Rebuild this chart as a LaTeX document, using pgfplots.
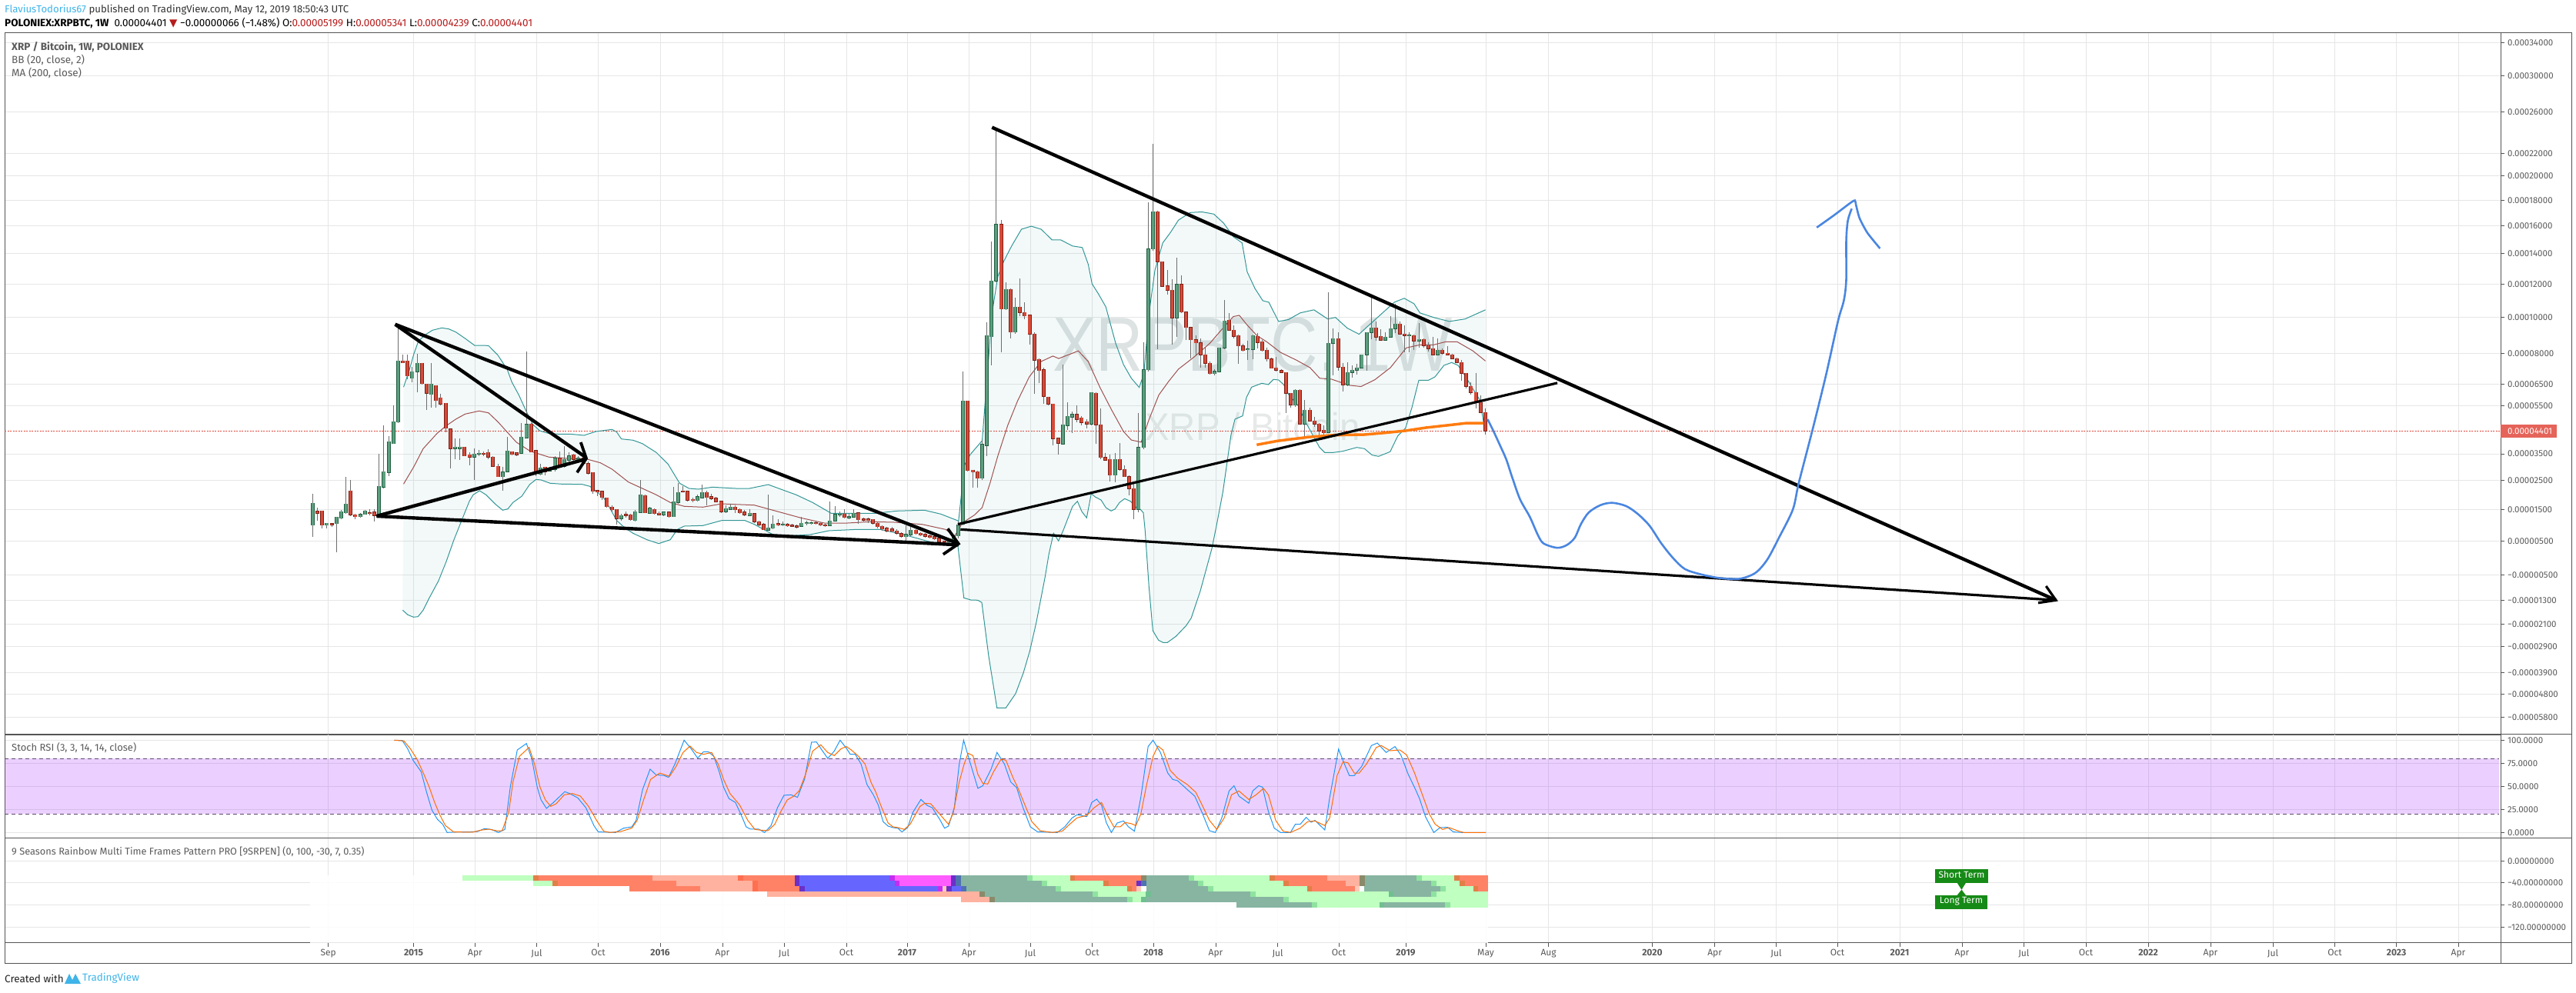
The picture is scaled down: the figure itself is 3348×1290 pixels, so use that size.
\documentclass[border=0pt]{standalone}
\usepackage{fontspec}
\usepackage{pgfplots}
\usepackage{pgfplotstable}
\pgfplotsset{compat=1.18}
\setmainfont{Fira Sans}
\newfontfamily\wmfont{Liberation Sans}
\newfontfamily\symfont{DejaVu Sans}
\definecolor{gridc}{HTML}{E6E6E6}
\definecolor{framec}{HTML}{555555}
\definecolor{labc}{HTML}{5A5A5A}
\definecolor{gbody}{HTML}{5C9E7E}
\definecolor{gedge}{HTML}{1F5E40}
\definecolor{rbody}{HTML}{D54A39}
\definecolor{redge}{HTML}{7A1F15}
\definecolor{wick}{HTML}{6E6E6E}
\definecolor{bbline}{HTML}{339696}
\definecolor{bbmid}{HTML}{A05050}
\definecolor{maorange}{HTML}{FF7B0F}
\definecolor{penblue}{HTML}{4A86E0}
\definecolor{lastred}{HTML}{E0483C}
\definecolor{hred}{HTML}{B71C1C}
\definecolor{tvblue}{HTML}{3FB4E8}
\definecolor{rsik}{HTML}{2196F3}
\definecolor{rsid}{HTML}{FF6D00}
\definecolor{band}{HTML}{9915FF}
\definecolor{bandline}{HTML}{5C4B6B}
\definecolor{wm}{HTML}{DDE2E2}
\definecolor{wmb}{HTML}{E7E9E9}
\definecolor{Dg}{HTML}{87B5A2}
\definecolor{Lg}{HTML}{BFFFBF}
\definecolor{Mg}{HTML}{8FE3A0}
\definecolor{Tg}{HTML}{6FBF90}
\definecolor{Or}{HTML}{FF8266}
\definecolor{Sa}{HTML}{FFB29F}
\definecolor{Br}{HTML}{E08048}
\definecolor{Ol}{HTML}{8A8A6A}
\definecolor{Bl}{HTML}{6666FF}
\definecolor{Mg2}{HTML}{FF5CFF}
\definecolor{Pu}{HTML}{6A30C8}
\definecolor{Vi}{HTML}{C42DF0}
\definecolor{Sb}{HTML}{4F73B0}
\definecolor{Hr}{HTML}{FF6F4F}
\definecolor{Pk}{HTML}{FFC9B8}
\definecolor{boxg}{HTML}{168A16}

% weekly candles, in price-scale position (screen row of the non-linear scale): i top bottom high low
\pgfplotstableread{
i top bot hi lo
1 654.3 682.7 641.7 697.7
4 680.3 682.7 680 686.7
6 672.3 680.7 672.3 717.7
7 665.3 673.7 663.3 675
8 655.3 666.7 620 668.3
11 668.7 671.7 666.7 673.3
12 664.3 668.7 663.3 669.3
15 632.3 668.7 590 671.7
16 613.3 633.3 553.3 635
17 574.3 614.3 566.7 619
18 548.3 576.7 526.7 576.7
19 469.3 548.7 421.7 550
22 483.3 491.7 476.7 496.7
23 472.3 483.3 460 510
26 499.3 512.7 472.3 530
31 581.3 583 570 596.7
32 581.3 583.3 570 598.3
35 590.3 594.3 583.3 623.7
36 589.3 590.3 585 593.3
41 614 619.7 606.7 638.3
42 586.3 613.3 568.3 614
45 568.3 589.3 550 590
46 552 569.3 457 570
49 608.3 616.7 603.3 618.3
51 610 612.3 606.7 613.3
52 595.7 610 593.3 613.3
54 597.3 606 580 608.3
55 592.7 598.3 588.3 603.3
57 596 598.3 593.3 600
66 670.3 674 668.3 676.7
69 665.3 676.7 663.3 677.7
70 643.3 666 624 666.7
72 661 667.3 659.3 668.3
75 666 669.3 665 670.7
77 652.3 671.7 633.3 672.3
78 640.3 653.3 628.3 655
82 646 650.7 643.3 651.7
83 640.3 647.3 630 648.3
88 661.3 665.3 656.7 666.7
89 659.3 662 655 663.3
93 667.3 670 661.7 670.7
97 686.3 689 643.3 690
98 681.3 686.7 670 688.3
100 682 682.7 678.3 684
104 680.3 684.3 671.7 685
105 679.7 680.7 676.7 682.7
106 679.7 680.3 677.7 682
110 677.3 683.3 651.7 684
111 669 677.3 658.3 678.3
112 668.3 669.3 665 671.7
114 671.7 673.3 668.3 675
115 667.3 672.3 661.7 673.3
126 695 697.7 683.3 706.7
127 689.3 695.3 685 696.7
135 702 704.7 700 706
136 696.7 703.3 695 705
137 682.3 696.7 678 700
138 521.3 681.7 483.3 683
142 578 621.5 572.9 624.3
143 436.4 578.8 419 592.6
144 365.3 437.6 313.9 474.8
145 292.1 365.3 165.6 367.2
147 376.3 401.6 367.2 402.8
149 399.3 431.7 387 434.5
159 552.3 576.8 474 577.6
160 541.2 553.1 523.4 559
161 538.5 542 535.3 563
165 510.4 551.1 509.6 553.1
170 597.4 617.5 588.7 627.4
175 581.6 661.8 536.5 665.8
176 480.7 581.6 445.1 583.5
177 323.8 480.7 263.3 482.7
178 275.5 323.8 187.3 325.7
183 370 413.5 334.8 438.4
191 482.7 485.5 479.9 487.8
192 452.3 483.1 452.3 483.9
193 417.5 452.3 390.2 454.2
198 454 454.7 443.3 467.7
199 436.3 454.3 435 466.7
208 507.3 526.7 506 529.3
210 533.3 551.3 520 567.7
215 446.3 562.3 380 563.3
216 440.3 446.3 426.7 488.3
219 484.3 500.3 471 502.3
220 481.3 484.3 475 490.7
221 478.3 481.3 473.3 487.3
222 461.3 478.3 460.7 479.3
223 432.3 461.3 431.7 481.7
224 426.3 432.3 384 440.7
227 438.3 442.3 431.7 443.3
228 427.3 438.3 411 439
229 421.3 427.3 395 433.3
232 436 436.7 431.7 458.3
234 441.3 443.3 420 451.7
238 455.3 461.3 440 462
}\greencandles
\pgfplotstableread{
i top bot hi lo
2 665 667.3 660 676.7
3 664.3 682.7 664.3 687.3
5 680.7 682 680 685
9 638.3 669.3 624.3 671
10 669.3 671.7 668.3 675
13 667 667.7 661.7 670
14 666 670 661.7 677.7
20 469.3 471.7 461 471.7
21 469.3 488.7 461 493.3
24 472.3 498.7 472.3 500
25 499.3 511.3 499.3 533.3
27 501.3 520.7 501.3 530
28 517.3 525.3 511.7 526.7
29 524.3 556.7 524.3 561.7
30 557.7 583.3 556.7 608.7
33 581.3 592.7 581.3 593.3
34 591.3 594.3 588.3 605
37 589.3 590 586.7 593.3
38 588.3 594.3 584 596.7
39 594.3 606 593.3 606.7
40 606.3 619.7 603.3 620
43 587.3 590.7 586.7 591.7
44 589 591.3 588.3 593.3
47 551.3 587.7 550 588.3
48 585.7 615.3 585.7 618.7
50 607.3 613.3 606.7 618.3
53 595.7 604 586.7 606.7
56 591.3 597.3 590 600
58 596 602.7 590 603.3
59 602.7 615.3 600 616.7
60 614.3 638.7 614.3 641.7
61 638 639.7 636.7 645
62 639 646.7 639 650
63 647.3 658.7 647.3 660
64 659.3 662.7 656.7 665
65 662.3 674 661.7 681.7
67 669 670 665 673.3
68 669.3 675.7 668.3 676.7
71 644.3 666.7 643.3 667.3
73 662.3 667.7 660.7 668.7
74 667.3 669.3 665 670
76 666 671.7 665 673.3
79 638.3 639 631.7 640
80 639 650 638.3 651.7
81 649.3 650.7 646.7 652.7
84 640.3 646.7 638.3 657.3
85 645.7 648.3 641.7 650
86 648 652 646 653.3
87 651.7 665.3 650.7 667.3
90 659.3 662.7 656.7 666.7
91 662.3 666.7 660.7 668.3
92 666 669.3 663.3 670.7
94 668 678.3 667.3 680
95 678.3 682 676.7 684
96 681.7 688.7 680 689.3
99 681 682.7 675 684
101 682 683.7 680 685
102 682.7 684 681 685
103 683.7 685 681.7 686.7
107 679.7 680.7 677.7 682
108 680.3 682.7 679 684
109 682.7 683.3 681 685
113 668.3 672.7 661.7 674
116 666.7 675.7 665.7 681
117 675 676.3 672.7 678.3
118 675 676.7 672.7 680
119 675.3 680.3 675 681.7
120 680.3 684.7 679 686.7
121 684.3 687.7 682.7 690
122 687 690 685 691.7
123 687.7 690.7 685 692.3
124 690.3 693.3 688.3 695
125 693.7 697 691.7 698.7
128 689.3 693.7 688.3 695
129 693.3 695.7 691.7 696.7
130 695 697 693.3 698.7
131 696.7 698.7 695 700
132 697.7 700.7 696 701.7
133 700 704.3 698.3 705.3
134 703.7 704.7 702.7 706
139 521.3 611.7 521.3 613.3
140 611.2 613.6 611 634
141 613.2 621.5 612 634
146 292.1 401.6 286.2 458.2
148 376.3 431.7 375.2 440.4
150 399.3 406.4 362.1 410.7
151 406.4 410.7 393 414.7
152 409.6 434.5 408.8 448.3
153 434.5 468.1 432.5 511.6
154 467.3 481.5 466.1 497.7
155 481.1 515.1 478 525.4
156 516.3 525.4 515.5 527.4
157 525.4 570.1 525.4 578.8
158 570.1 576.4 568.9 590.7
162 538.5 545.2 527.4 549.1
163 543.2 549.1 541.2 553.1
164 548.4 551.1 545.2 557
166 511.2 552.3 509.6 576.8
167 552.3 594.6 531.3 596.6
168 594.6 597.8 588.7 598.6
169 597.4 617.5 590.7 626.2
171 597.4 610.4 576 612.4
172 610.4 619.5 604.5 620.3
173 619.5 635.3 618.3 644
174 635.3 661.8 628.2 674.9
179 275.5 340.4 274.3 454.2
180 340.4 372 339.6 373.2
181 372 377.5 351.4 383.1
182 377.5 413.5 363.3 448.3
184 370 405.6 358.2 406.8
185 405.6 425.8 405.6 442.4
186 425.8 441.6 424.6 466.1
187 441.6 445.5 436.4 462.1
188 445.5 461.4 440.4 478
189 461.4 472.4 452.3 478
190 472.4 485.5 470.1 487.1
194 416.3 429.3 406.8 430.5
195 429.3 437.3 423.3 440
196 436.3 449.7 435 473.3
197 449.7 455.7 446.7 456.7
200 437.3 445.3 432.7 452.7
201 444.3 455.7 441.7 456.7
202 455.3 466.7 451.7 470
203 466.7 478.7 465 479.3
204 478.3 481.3 464 482.7
205 481.7 484.3 480 485
206 484.3 511.3 484.3 537.3
207 511.3 526.3 511.3 530
209 507.3 551.3 506 552
211 533.3 547.3 530 548.3
212 547.3 551.3 541.7 555
213 551.3 560.3 550 569.3
214 559.3 562.7 553.3 570
217 440.3 477.3 432.3 481.7
218 477.3 500.3 471.7 509.3
225 426.3 438.3 418.3 442.7
226 437.3 442.3 428.3 443.3
230 421.3 434.3 418.3 435
231 434.3 436.3 423.3 458.3
233 436.3 443.3 435 455
235 441.3 449.3 440 451.7
236 449.3 453.3 445 456.7
237 453.3 461.3 438.3 462
239 455.3 459.3 452.7 460.7
240 459.3 461.3 450 461.7
241 461.3 466.3 460 466.7
242 466.3 471.3 465 472
243 471.3 485.3 468.3 494.7
244 485.3 502.3 485.3 505
245 502.3 510.3 496.7 513.3
246 510.3 523.3 485 530.7
247 523.3 536.3 514 537.3
248 536.3 560.3 530.7 565
}\redcandles

\newcommand{\candles}[3]{%
\addplot[draw=none,forget plot,error bars/.cd,y dir=plus,y explicit,error mark=none,error bar style={line width=1pt,color=wick}]
 table[x expr=406.4+6.17*(\thisrow{i}-1),y=hi,y error plus expr=\thisrow{lo}-\thisrow{hi}] {#1};
\addplot[draw=none,forget plot,error bars/.cd,y dir=plus,y explicit,error mark=none,error bar style={line width=5pt,color=#3}]
 table[x expr=406.4+6.17*(\thisrow{i}-1),y expr=\thisrow{top}-0.7,y error plus expr=\thisrow{bot}-\thisrow{top}+1.4] {#1};
\addplot[draw=none,forget plot,error bars/.cd,y dir=plus,y explicit,error mark=none,error bar style={line width=3.2pt,color=#2}]
 table[x expr=406.4+6.17*(\thisrow{i}-1),y=top,y error plus expr=\thisrow{bot}-\thisrow{top}] {#1};
}
\newcommand{\seg}[5]{\addplot[fill=#1,draw=none,forget plot] coordinates {(#2,#4)(#3,#4)(#3,#5)(#2,#5)} -- cycle;}
\newcommand{\RA}[3]{\seg{#1}{#2}{#3}{-26.1}{-35.9}}
\newcommand{\RB}[3]{\seg{#1}{#2}{#3}{-35.9}{-45.6}}
\newcommand{\RC}[3]{\seg{#1}{#2}{#3}{-45.6}{-55.4}}
\newcommand{\RD}[3]{\seg{#1}{#2}{#3}{-55.4}{-65.2}}
\newcommand{\RE}[3]{\seg{#1}{#2}{#3}{-65.2}{-75}}
\newcommand{\RF}[3]{\seg{#1}{#2}{#3}{-75}{-84.7}}
\newcommand{\txt}[2]{\node[anchor=west,inner sep=0pt] at (#1pt,#2pt)}
\pgfplotsset{
 pane/.style={
  scale only axis,width=3244pt,xmin=6,xmax=3250,
  xtick={426.7,537.5,617.5,697.5,777.5,858,939,1019,1100,1179,1259.4,1339,1419.5,1499,1580,1660.6,1740,1827,1931,2012.6,2147.4,2228.6,2308.5,2388,2469,2550,2630.3,2711,2792,2873,2954,3034.5,3114.5,3195},
  grid=both,major grid style={color=gridc,line width=1pt},
  axis line style={color=framec,line width=1pt},
  ytick pos=right,yticklabel pos=right,
  tick align=outside,major tick length=5pt,
  y tick style={color=framec,line width=1pt},
  y tick label style={font=\fontsize{11.5}{13}\selectfont,color=labc,inner sep=0pt},
  yticklabel shift=4pt,
  x tick label style={font=\fontsize{12}{14}\selectfont,color=labc},
  enlargelimits=false,
 }
}
\begin{document}
\begin{tikzpicture}[x=1pt,y=1pt]
\path[use as bounding box] (0pt,0pt) rectangle (3348pt,1290pt);

% ---------- main pane ----------
\begin{axis}[pane,at={(6pt,335pt)},anchor=south west,height=912pt,y dir=reverse,ymin=43,ymax=955,
 xticklabels={},x tick style={draw=none},xtick pos=bottom,
 ytick={55.5,98.9,146,199.6,228.3,260.8,293.4,329.7,369.3,412.6,459.8,499.4,527.4,590,624.4,662.6,703.4,747.4,780.6,811.2,840.6,874.3,902.4,932.4},
 yticklabels={0.00034000,0.00030000,0.00026000,0.00022000,0.00020000,0.00018000,0.00016000,0.00014000,0.00012000,0.00010000,0.00008000,0.00006500,0.00005500,0.00003500,0.00002500,0.00001500,0.00000500,−0.00000500,−0.00001300,−0.00002100,−0.00002900,−0.00003900,−0.00004800,−0.00005800},
]
% watermarks
\addplot[draw=none,forget plot] coordinates {(1628,454)} node[font=\wmfont\fontsize{100}{100}\selectfont,color=wm,xscale=0.85] {XRPBTC, 1W};
\addplot[draw=none,forget plot] coordinates {(1628,555)} node[font=\wmfont\fontsize{50}{50}\selectfont,color=wmb,xscale=0.95] {XRP / Bitcoin};
% last price
\addplot[color=lastred,line width=0.8pt,dash pattern=on 2pt off 1.5pt,forget plot] coordinates {(6,560)(3250,560)};

% Bollinger band fill (upper forward, lower back)
\addplot[fill=bbline,fill opacity=0.06,draw=none,forget plot] coordinates {
(524.5,503.3)(531.8,481.7)(537.9,460)(543.9,443.3)(553,435)(562.1,429.3)(574.2,426.3)(583.3,427.7)(592.4,431.7)(604.5,440)(616.7,449)(634.8,449.3)(647,461.7)(659.1,480)(665.2,496.7)(674.2,513.3)(683.3,533.3)(692.4,551.7)(701.5,560)(713.6,563.7)(725.8,564.3)(740.9,564.3)(759.1,566)(774.2,561)(795.5,558.3)(801.5,561.7)(807.6,570.7)(822.7,572.3)(834.8,576.7)(853,588.3)(868.2,603.3)(883.3,628.3)(895.5,635)(907.6,636)(925.8,633.3)(956.1,635)(974.2,635)(998.5,630)(1016.7,636.7)(1034.8,643.3)(1056.1,653.3)(1080.3,667.3)(1113.6,667.3)(1137.9,667.3)(1165.2,664.3)(1201.5,663.3)(1222.7,668.3)(1245.8,677.3)(1253.6,604.5)(1261.2,590.7)(1276.5,572.9)(1284.2,474)(1289.3,406.8)(1296.9,359.3)(1304.6,339.6)(1314.8,319.8)(1327.6,298)(1340.3,294.1)(1353.1,298)(1367.3,311.9)(1378.6,311.9)(1393.9,319.8)(1406.6,321.8)(1414.3,343.5)(1419.4,369.2)(1427,381.1)(1437.2,398.9)(1450,446.3)(1460.2,474)(1470.4,491.8)(1480.6,503.7)(1486.7,485.9)(1493.4,406.8)(1501,351.4)(1511.2,315.8)(1521.4,302)(1531.6,286.2)(1546.9,276.3)(1562.2,275.5)(1577.6,278.3)(1590.3,290.1)(1603.1,307.9)(1614.3,315.8)(1620.9,353.4)(1631.1,375.2)(1641.3,391)(1649,392.9)(1661.7,417.9)(1674.5,415.5)(1689.8,406.8)(1707.7,402.8)(1725.5,414.7)(1735.7,412.7)(1751,426.6)(1766.3,434.5)(1781.6,420.6)(1796.9,406.8)(1812.2,392.9)(1825,387.8)(1837.8,394.9)(1845.4,406.8)(1863.3,412.7)(1883.7,417.9)(1904.1,414.7)(1930.6,402.8)
(1930,560)(1923.3,520)(1915,506.7)(1905,490)(1895,475)(1886.7,471.3)(1876.7,475)(1865,490)(1856.7,494.3)(1844,494.3)(1835,530)(1826.7,556.7)(1816.7,566.7)(1806.7,587.3)(1791.7,593.3)(1783.3,591.7)(1773.3,583.3)(1763.3,581.7)(1745,586.7)(1733.3,588.3)(1721.7,588.3)(1715,581.7)(1706.7,566.7)(1696.7,548.3)(1686.7,526.7)(1675,513.3)(1668.3,500)(1661.7,494)(1655,493.3)(1648.3,500)(1640,498.3)(1626.7,503.3)(1620,516.7)(1615,540.7)(1605,545)(1600,565)(1589.3,640)(1581.7,680)(1575,713.3)(1560,768.3)(1548.3,803.3)(1541.7,813.3)(1528.3,827.3)(1517.3,835.3)(1511.7,835.3)(1505.7,832.3)(1498.3,820)(1493.3,763.3)(1488.3,690)(1486,666.7)(1481.7,661.7)(1476.7,660)(1469.3,651.7)(1461.7,648.3)(1455,653.3)(1449.3,661.7)(1444,664.3)(1437.3,660)(1431,650)(1423.3,646)(1418.3,641.7)(1412.3,673.3)(1406,665)(1400.3,651.7)(1394,658.3)(1381.7,690)(1375.7,703.3)(1369.3,693.3)(1363.3,720)(1358.3,750)(1346.7,810)(1338.3,846.7)(1330,875)(1320,901.7)(1307.3,920.3)(1295.7,920.3)(1285,853.3)(1276,783.3)(1270.7,780.3)(1261.7,780)(1252.7,777.3)(1245,710)(1240.9,710)(1210.6,705)(1174.2,695)(1143.9,688.3)(1113.6,688.3)(1077.3,690)(1053,695)(1022.7,696.7)(1004.5,695)(992.4,688.3)(980.3,681.7)(968.2,676.7)(937.9,676.7)(913.6,683.3)(889.4,684)(880.3,688.3)(871.2,701.7)(856.1,706.7)(840.9,701.7)(822.7,693.3)(810.6,685)(801.5,676.7)(786.7,650)(776.7,640)(766.7,632.3)(756.7,629.7)(730,629.3)(715,628.3)(703.3,624)(696.7,623.3)(688.3,630)(678.3,645)(666.7,653.3)(660,661.7)(653.3,663.3)(643.3,655)(631.7,643.3)(623.3,638)(615,643.3)(610,651.7)(600,676.7)(590,701.7)(580,730)(570,755)(558.3,776.7)(550,793.3)(543.3,801.7)(537.3,802.3)(530,799.3)(523.3,793.3)} -- cycle;
\addplot[color=bbline,line width=1pt,forget plot] coordinates {
(524.5,503.3)(531.8,481.7)(537.9,460)(543.9,443.3)(553,435)(562.1,429.3)(574.2,426.3)(583.3,427.7)(592.4,431.7)(604.5,440)(616.7,449)(634.8,449.3)(647,461.7)(659.1,480)(665.2,496.7)(674.2,513.3)(683.3,533.3)(692.4,551.7)(701.5,560)(713.6,563.7)(725.8,564.3)(740.9,564.3)(759.1,566)(774.2,561)(795.5,558.3)(801.5,561.7)(807.6,570.7)(822.7,572.3)(834.8,576.7)(853,588.3)(868.2,603.3)(883.3,628.3)(895.5,635)(907.6,636)(925.8,633.3)(956.1,635)(974.2,635)(998.5,630)(1016.7,636.7)(1034.8,643.3)(1056.1,653.3)(1080.3,667.3)(1113.6,667.3)(1137.9,667.3)(1165.2,664.3)(1201.5,663.3)(1222.7,668.3)(1245.8,677.3)(1253.6,604.5)(1261.2,590.7)(1276.5,572.9)(1284.2,474)(1289.3,406.8)(1296.9,359.3)(1304.6,339.6)(1314.8,319.8)(1327.6,298)(1340.3,294.1)(1353.1,298)(1367.3,311.9)(1378.6,311.9)(1393.9,319.8)(1406.6,321.8)(1414.3,343.5)(1419.4,369.2)(1427,381.1)(1437.2,398.9)(1450,446.3)(1460.2,474)(1470.4,491.8)(1480.6,503.7)(1486.7,485.9)(1493.4,406.8)(1501,351.4)(1511.2,315.8)(1521.4,302)(1531.6,286.2)(1546.9,276.3)(1562.2,275.5)(1577.6,278.3)(1590.3,290.1)(1603.1,307.9)(1614.3,315.8)(1620.9,353.4)(1631.1,375.2)(1641.3,391)(1649,392.9)(1661.7,417.9)(1674.5,415.5)(1689.8,406.8)(1707.7,402.8)(1725.5,414.7)(1735.7,412.7)(1751,426.6)(1766.3,434.5)(1781.6,420.6)(1796.9,406.8)(1812.2,392.9)(1825,387.8)(1837.8,394.9)(1845.4,406.8)(1863.3,412.7)(1883.7,417.9)(1904.1,414.7)(1930.6,402.8)};
\addplot[color=bbline,line width=1pt,forget plot] coordinates {
(523.3,793.3)(530,799.3)(537.3,802.3)(543.3,801.7)(550,793.3)(558.3,776.7)(570,755)(580,730)(590,701.7)(600,676.7)(610,651.7)(615,643.3)(623.3,638)(631.7,643.3)(643.3,655)(653.3,663.3)(660,661.7)(666.7,653.3)(678.3,645)(688.3,630)(696.7,623.3)(703.3,624)(715,628.3)(730,629.3)(756.7,629.7)(766.7,632.3)(776.7,640)(786.7,650)(801.5,676.7)(810.6,685)(822.7,693.3)(840.9,701.7)(856.1,706.7)(871.2,701.7)(880.3,688.3)(889.4,684)(913.6,683.3)(937.9,676.7)(968.2,676.7)(980.3,681.7)(992.4,688.3)(1004.5,695)(1022.7,696.7)(1053,695)(1077.3,690)(1113.6,688.3)(1143.9,688.3)(1174.2,695)(1210.6,705)(1240.9,710)(1245,710)(1252.7,777.3)(1261.7,780)(1270.7,780.3)(1276,783.3)(1285,853.3)(1295.7,920.3)(1307.3,920.3)(1320,901.7)(1330,875)(1338.3,846.7)(1346.7,810)(1358.3,750)(1363.3,720)(1369.3,693.3)(1375.7,703.3)(1381.7,690)(1394,658.3)(1400.3,651.7)(1406,665)(1412.3,673.3)(1418.3,641.7)(1423.3,646)(1431,650)(1437.3,660)(1444,664.3)(1449.3,661.7)(1455,653.3)(1461.7,648.3)(1469.3,651.7)(1476.7,660)(1481.7,661.7)(1486,666.7)(1488.3,690)(1493.3,763.3)(1498.3,820)(1505.7,832.3)(1511.7,835.3)(1517.3,835.3)(1528.3,827.3)(1541.7,813.3)(1548.3,803.3)(1560,768.3)(1575,713.3)(1581.7,680)(1589.3,640)(1600,565)(1605,545)(1615,540.7)(1620,516.7)(1626.7,503.3)(1640,498.3)(1648.3,500)(1655,493.3)(1661.7,494)(1668.3,500)(1675,513.3)(1686.7,526.7)(1696.7,548.3)(1706.7,566.7)(1715,581.7)(1721.7,588.3)(1733.3,588.3)(1745,586.7)(1763.3,581.7)(1773.3,583.3)(1783.3,591.7)(1791.7,593.3)(1806.7,587.3)(1816.7,566.7)(1826.7,556.7)(1835,530)(1844,494.3)(1856.7,494.3)(1865,490)(1876.7,475)(1886.7,471.3)(1895,475)(1905,490)(1915,506.7)(1923.3,520)(1930,560)};
\addplot[color=bbmid,line width=1pt,forget plot] coordinates {
(524.5,629.3)(537.9,606.7)(550,583.3)(568.2,563.3)(580.3,553.3)(592.4,545)(604.5,538.3)(622.7,534.3)(634.8,536.7)(647,548.3)(659.1,561.7)(671.2,575)(689.4,586.7)(713.6,594.3)(737.9,596)(762.1,596.7)(780.3,601.7)(795.5,610)(816.7,626.7)(834.8,635)(853,643.3)(871.2,653.3)(889.4,658.3)(913.6,659.3)(937.9,655)(980.3,656.7)(1010.6,665)(1040.9,673.3)(1071.2,680)(1101.5,680)(1131.8,678.3)(1162.1,679)(1198.5,681.7)(1228.8,688.3)(1240.9,696.7)(1251,679.6)(1266.3,669.7)(1276.5,659.8)(1286.7,628.2)(1296.9,592.6)(1309.7,553.1)(1322.4,521.5)(1337.8,489.8)(1353.1,470)(1368.4,462.9)(1376,466.1)(1391.3,460.2)(1401.5,456.2)(1414.3,470)(1429.6,503.7)(1444.9,533.3)(1460.2,561)(1470.4,572.1)(1483.2,574.8)(1493.4,545.2)(1506.1,513.5)(1518.9,495.8)(1531.6,479.9)(1552,464.1)(1572.4,446.3)(1592.9,422.6)(1603.1,411.5)(1610.7,410)(1620.9,422.6)(1633.7,436.4)(1646.4,444.4)(1664.3,458.2)(1684.7,468.1)(1702.6,478)(1715.3,491.8)(1730.6,493)(1753.6,500.9)(1768.9,502.5)(1786.7,493.8)(1807.1,478)(1827.6,452.3)(1845.4,448.3)(1863.3,448.3)(1878.6,444.4)(1893.9,444.4)(1914.3,456.2)(1930.6,469.3)};
% candles
\candles{\greencandles}{gbody}{gedge}
\candles{\redcandles}{rbody}{redge}
% MA 200
\addplot[color=maorange,line width=3.5pt,forget plot] coordinates {(1633.3,578.3)(1660,573.3)(1700,568.3)(1733.3,565.7)(1773.3,565)(1800,562.7)(1826.7,560)(1853.3,556)(1886.7,552.3)(1906.7,550)(1928.3,550)};
% drawn trend lines
\addplot[black,line width=4.4pt,forget plot] coordinates {(513.6,421.7)(762,595)};
\addplot[black,line width=4.4pt,forget plot] coordinates {(513.6,421.7)(1245.8,706.7)};
\addplot[black,line width=4.4pt,forget plot] coordinates {(489.4,671)(762,596.7)};
\addplot[black,line width=4.4pt,forget plot] coordinates {(489.4,671)(1245.8,708.3)};
\addplot[black,line width=3.8pt,forget plot] coordinates {(754.8,575)(762,596)(750,614.3)};
\addplot[black,line width=3.8pt,forget plot] coordinates {(1231.8,687.3)(1245.8,707)(1225.8,720.7)};
\addplot[black,line width=4.4pt,forget plot] coordinates {(1289.3,165.6)(2672,780.3)};
\addplot[black,line width=3.2pt,forget plot] coordinates {(1244.9,681.6)(2024,497.9)};
\addplot[black,line width=3.2pt,forget plot] coordinates {(1248.3,688.3)(2672,780.3)};
\addplot[black,line width=3.2pt,forget plot] coordinates {(2659.2,762)(2672,780.3)(2649,783.8)};
% drawn forecast
\addplot[color=penblue,line width=2.6pt,smooth,tension=0.5,forget plot] coordinates {(1933.3,545)(1940,558.3)(1950,580)(1957.7,597.4)(1965.3,620.4)(1975.5,649)(1988.3,672)(1998.5,695)(2006.1,706.5)(2024,712.2)(2036.7,708.4)(2046.9,698.8)(2054.6,681.6)(2064.8,666.3)(2080.1,656.7)(2095.4,653.7)(2113.3,657.9)(2128.6,668.2)(2143.9,683.5)(2159.2,706.5)(2174.5,725.6)(2189.8,739.8)(2210.2,746.6)(2235.7,751.6)(2261.2,752.4)(2281.6,744.7)(2296.9,727.5)(2312.2,698.8)(2330.1,662.5)(2337.8,628)(2355.6,559.1)(2373.5,486.4)(2388.8,417.5)(2396.4,390.7)(2399.5,363.9)(2399.5,314.2)(2401.5,287.4)(2406.6,271.3)};
\addplot[color=penblue,line width=2.6pt,smooth,tension=0.4,forget plot] coordinates {(2361.2,295.8)(2383.7,279.8)(2404.1,264.4)(2410.7,260.6)(2412.2,266.4)(2416.8,283.6)(2427,302.7)(2443.4,323)};
\end{axis}

% ---------- Stoch RSI pane ----------
\begin{axis}[pane,at={(6pt,200pt)},anchor=south west,height=135pt,ymin=-6.4,ymax=106.1,
 xticklabels={},x tick style={draw=none},xtick pos=bottom,
 ytick={0,25,50,75,100},yticklabels={0.0000,25.0000,50.0000,75.0000,100.0000}]
\addplot[fill=band,fill opacity=0.2,draw=none,forget plot] coordinates {(6,80)(3248,80)(3248,20)(6,20)} -- cycle;
\addplot[color=bandline,line width=1pt,dash pattern=on 5pt off 4pt,forget plot] coordinates {(6,80)(3248,80)};
\addplot[color=bandline,line width=1pt,dash pattern=on 5pt off 4pt,forget plot] coordinates {(6,20)(3248,20)};
\addplot[color=rsik,line width=1pt,forget plot] coordinates {
(512.3,100)(522.8,99.7)(529.8,90.8)(536.8,78.3)(547.4,65.8)(554.4,43.6)(561.4,24.2)(568.4,14.4)(575.4,8.9)(581.1,0)(596.5,0.6)(610.5,0.6)(621,1.1)(629.5,4.2)(638.6,3.3)(647.7,0)(656.1,3.3)(663.2,49.2)(672.3,89.4)(684.2,96.4)(691.2,79.7)(698.2,49.2)(703.2,35.3)(710.2,26.1)(719.3,32.5)(734,44.2)(740.4,42.2)(750.9,37.5)(761.4,26.9)(771.9,7.5)(777.5,0.6)(800,0)(810.5,4.7)(821.1,6.1)(826.7,13.1)(835.1,46.4)(844.9,68.6)(852.6,62.5)(863.2,61.7)(868.8,59.7)(877.2,74.2)(889.1,100)(898.2,90.8)(906.7,80.6)(914.4,87.5)(920.7,87.5)(927.7,82.5)(934.7,65.8)(940.4,49.2)(947.4,36.7)(955.8,32.5)(963.5,18.6)(969.8,6.1)(975.4,3.6)(986,3.6)(993.7,0)(1002.1,7.5)(1010.5,26.9)(1018.9,40.3)(1028.1,40.8)(1036.5,38.1)(1045.6,57.5)(1054.7,97.8)(1061.1,98.1)(1068.1,89.4)(1075.8,80.3)(1084.2,88.1)(1091.9,100)(1100.4,90.8)(1105.1,84.7)(1111.5,84.7)(1119.1,74.2)(1126.8,51.9)(1135.1,40.8)(1141.5,29.7)(1147.8,11.7)(1154.2,6.9)(1160.6,5.3)(1167,4.7)(1172.1,0.6)(1179.7,5.3)(1186.1,21.4)(1196.9,35.8)(1205.2,29.2)(1211.6,26.9)(1221.2,14.4)(1227.6,4.7)(1232.7,6.9)(1240.3,26.9)(1246.7,74.2)(1252.4,100)(1259.4,79.7)(1270.9,47.8)(1277.3,50.6)(1288.1,68.6)(1295.8,86.7)(1305.4,74.2)(1313.6,54.7)(1321.3,48.6)(1329.6,26.9)(1339.2,6.1)(1348.7,0.6)(1374.2,0)(1383.8,6.1)(1393.4,15.8)(1399.7,19.2)(1412.5,17.2)(1418.9,32.5)(1425.3,36.1)(1431.6,29.7)(1438,10.3)(1444.4,0)(1452,10.3)(1460.3,12.5)(1466.7,6.1)(1474.4,1.4)(1482.7,38.1)(1492.2,93.1)(1498.6,100)(1508.2,86.7)(1517.7,64.4)(1524.1,57.5)(1530.5,56.1)(1543.2,46.4)(1552.8,39.4)(1562.4,21.4)(1571.9,1.9)(1579.6,0)(1587.9,15.8)(1597.4,45)(1603.8,50.6)(1610.2,39.4)(1623,31.7)(1628.1,45)(1635.7,50.6)(1640.8,49.2)(1648.5,22.8)(1656.1,4.7)(1664.4,0)(1677.2,0)(1683.5,8.9)(1689.9,8.9)(1697.6,16.4)(1704,11.1)(1709,13.1)(1721.8,2.8)(1728.2,38.1)(1739.7,90.3)(1747.3,74.2)(1753.7,61.7)(1760.1,61.7)(1769.6,71.4)(1782.4,94.2)(1790.1,96.9)(1801.5,86.7)(1813,93.1)(1820.7,83.9)(1830.2,63.1)(1839.8,46.4)(1844.9,36.7)(1852.6,17.2)(1863.4,0)(1871.7,5.3)(1881.3,5.6)(1888.9,0.6)(1900.4,0)(1931,0)};
\addplot[color=rsid,line width=1pt,forget plot] coordinates {
(512.3,100)(524.9,99.2)(533.3,90.8)(541.8,79.7)(550.9,63.1)(557.9,49.2)(564.9,32.5)(571.9,18.6)(578.9,7.5)(589.5,0.6)(614,0.3)(624.6,2.5)(635.1,3.6)(645.6,1.9)(652.6,1.9)(661.1,21.4)(666.7,54.7)(675.1,82.5)(687.7,92.2)(694.7,74.2)(701.8,49.2)(708.8,35.3)(715.8,28.3)(722.8,31.1)(733.3,40.8)(743.9,42.2)(754.4,39.4)(764.9,28.3)(775.4,13.1)(784.6,1.4)(793,0)(807,1.1)(821.1,4.7)(828.1,13.1)(836.5,35.3)(845.6,57.5)(857.5,64.4)(870.2,60.8)(878.6,71.4)(887.7,86.7)(896.8,93.6)(905.3,86.7)(914.4,84.7)(924.9,86.7)(933.3,74.2)(940.4,57.5)(948.8,42.2)(961.4,29.7)(971.9,13.1)(981.1,3.3)(989.5,2.5)(997.9,1.9)(1007,8.9)(1014,21.4)(1023.2,35.3)(1031.6,39.4)(1038.6,45)(1047,63.1)(1056.1,88.1)(1066.7,95)(1075.8,86.7)(1084.2,83.3)(1093.3,90.8)(1100,93.1)(1106.4,89.4)(1115.9,82.5)(1124.2,74.2)(1131.9,54.7)(1138.3,43.6)(1144.6,29.7)(1154.2,10.3)(1160.6,6.1)(1167,5.3)(1175.3,3.3)(1182.9,8.9)(1195.7,28.3)(1202,31.7)(1209.7,31.1)(1221.2,20)(1232.7,8.9)(1239,21.4)(1246.7,54.7)(1253.1,74.2)(1258.2,85.8)(1264.5,83.3)(1270.9,63.1)(1277.3,53.3)(1283.7,52.5)(1291.3,65.8)(1300.9,79.2)(1307.3,78.3)(1316.8,58.9)(1323.2,47.8)(1332.8,28.3)(1341.1,11.7)(1351.9,1.9)(1367.9,0)(1380.6,1.4)(1390.2,8.9)(1399.7,15.8)(1412.5,18.6)(1422.1,26.9)(1431.6,32.5)(1439.3,18.6)(1447.6,6.1)(1455.9,6.1)(1462.2,10.8)(1469.9,9.7)(1476.3,7.5)(1482.7,20)(1490.3,51.9)(1498.6,82.5)(1505,93.6)(1511.4,89.4)(1520.9,67.2)(1530.5,58.9)(1543.2,51.9)(1554.1,43.6)(1562.4,29.7)(1571.9,13.1)(1581.5,3.3)(1591.1,15.8)(1600.6,40.8)(1610.2,45)(1623,35.8)(1632.5,40.8)(1642.1,47.8)(1648.5,40.8)(1658,13.1)(1667.6,1.4)(1677.2,0)(1689.9,4.7)(1699.5,11.7)(1709,12.5)(1721.8,7.5)(1728.2,15.8)(1737.8,61.7)(1745.4,76.4)(1751.8,75.6)(1760.1,64.4)(1766.5,64.4)(1776,74.2)(1788.8,92.2)(1795.2,94.2)(1806.6,88.6)(1819.4,89.4)(1828.3,83.9)(1838.5,64.4)(1846.2,46.4)(1857.7,20)(1865.3,8.9)(1874.9,3.3)(1883.2,5.3)(1897.2,1.1)(1902.3,0)(1931,0)};
\end{axis}

% ---------- rainbow pane ----------
\begin{axis}[pane,at={(6pt,64pt)},anchor=south west,height=136pt,ymin=-148.9,ymax=40.9,
 xtick pos=bottom,x tick style={color=framec,line width=1pt},
 xticklabels={Sep,\textbf{2015},Apr,Jul,Oct,\textbf{2016},Apr,Jul,Oct,\textbf{2017},Apr,Jul,Oct,\textbf{2018},Apr,Jul,Oct,\textbf{2019},May,Aug,\textbf{2020},Apr,Jul,Oct,\textbf{2021},Apr,Jul,Oct,\textbf{2022},Apr,Jul,Oct,\textbf{2023},Apr},
 ytick={0,-40,-80,-120},yticklabels={0.00000000,−40.00000000,−80.00000000,−120.00000000}]
\addplot[fill=white,fill opacity=0.85,draw=none,forget plot] coordinates {(403,-26.1)(1934,-26.1)(1934,-148.9)(403,-148.9)} -- cycle;
\RA{Lg}{601.4}{693.3}\RA{Br}{693.3}{700.4}\RA{Or}{700.4}{847.7}\RA{Sa}{847.7}{959.3}\RA{Hr}{959.3}{966.3}\RA{Or}{966.3}{1033}\RA{Pu}{1033}{1039.3}\RA{Bl}{1039.3}{1156}\RA{Vi}{1156}{1163}\RA{Mg2}{1163}{1236}\RA{Pu}{1236}{1242}\RA{Sb}{1242}{1249}\RA{Dg}{1249}{1335}\RA{Mg}{1335}{1342}\RA{Lg}{1342}{1391}\RA{Br}{1391}{1397}\RA{Or}{1397}{1483}\RA{Ol}{1483}{1490}\RA{Dg}{1490}{1545}\RA{Mg}{1545}{1551.5}\RA{Lg}{1551.5}{1650}\RA{Br}{1650}{1657}\RA{Or}{1657}{1725}\RA{Sa}{1725}{1767}\RA{Ol}{1767}{1774}\RA{Dg}{1774}{1841}\RA{Mg}{1841}{1848}\RA{Lg}{1848}{1890}\RA{Br}{1890}{1896.5}\RA{Or}{1896.5}{1934}
\RB{Lg}{693.3}{717.9}\RB{Br}{717.9}{724.9}\RB{Or}{724.9}{879.3}\RB{Sa}{879.3}{977.5}\RB{Hr}{977.5}{984.6}\RB{Or}{984.6}{1033}\RB{Pu}{1033}{1039.3}\RB{Bl}{1039.3}{1162.5}\RB{Vi}{1162.5}{1169}\RB{Mg2}{1169}{1236}\RB{Pu}{1236}{1242}\RB{Sb}{1242}{1249}\RB{Dg}{1249}{1354}\RB{Mg}{1354}{1361}\RB{Lg}{1361}{1434}\RB{Br}{1434}{1440.6}\RB{Or}{1440.6}{1477}\RB{Pu}{1477}{1483}\RB{Sb}{1483}{1490}\RB{Dg}{1490}{1557}\RB{Mg}{1557}{1564}\RB{Lg}{1564}{1668}\RB{Br}{1668}{1675}\RB{Or}{1675}{1749}\RB{Sa}{1749}{1767}\RB{Ol}{1767}{1774}\RB{Dg}{1774}{1860}\RB{Mg}{1860}{1867}\RB{Lg}{1867}{1897}\RB{Br}{1897}{1903.6}\RB{Or}{1903.6}{1934}
\RC{Or}{817.5}{910}\RC{Sa}{910}{977.5}\RC{Hr}{977.5}{984.6}\RC{Or}{984.6}{1039.3}\RC{Pu}{1039.3}{1046.3}\RC{Bl}{1046.3}{1218.6}\RC{Vi}{1218.6}{1225}\RC{Pk}{1225}{1230}\RC{Pu}{1230}{1236.5}\RC{Bl}{1236.5}{1249}\RC{Sb}{1249}{1256}\RC{Dg}{1256}{1371.7}\RC{Mg}{1371.7}{1378.7}\RC{Lg}{1378.7}{1465}\RC{Br}{1465}{1471}\RC{Or}{1471}{1477}\RC{Pk}{1477}{1483}\RC{Dg}{1490}{1570}\RC{Mg}{1570}{1577}\RC{Lg}{1577}{1699}\RC{Br}{1699}{1705}\RC{Or}{1705}{1760.7}\RC{Pk}{1760.7}{1767}\RC{Dg}{1773}{1871.7}\RC{Mg}{1871.7}{1878.7}\RC{Lg}{1878.7}{1915}\RC{Br}{1915}{1921.4}\RC{Or}{1921.4}{1934}
\RD{Sa}{996.5}{1272.8}\RD{Ol}{1272.8}{1280}\RD{Dg}{1280}{1420}\RD{Mg}{1420}{1427}\RD{Lg}{1427}{1489}\RD{Tg}{1489}{1496}\RD{Dg}{1496}{1625}\RD{Mg}{1625}{1632}\RD{Lg}{1632}{1805}\RD{Tg}{1805}{1811}\RD{Dg}{1811}{1860}\RD{Mg}{1860}{1867}\RD{Lg}{1867}{1934}
\RE{Sa}{1249}{1285.6}\RE{Ol}{1285.6}{1293}\RE{Dg}{1293}{1465}\RE{Mg}{1465}{1472}\RE{Lg}{1472}{1483}\RE{Tg}{1483}{1490}\RE{Dg}{1490}{1668}\RE{Mg}{1668}{1675}\RE{Lg}{1675}{1934}
\RF{Dg}{1607}{1705}\RF{Mg}{1705}{1712}\RF{Lg}{1712}{1792.6}\RF{Tg}{1792.6}{1799}\RF{Dg}{1799}{1878}\RF{Mg}{1878}{1885}\RF{Lg}{1885}{1934}
% Short / Long Term labels
\seg{boxg}{2515}{2584}{-14.9}{-39.6}
\seg{boxg}{2515}{2583}{-62.4}{-87}
\addplot[fill=boxg,draw=none,forget plot] coordinates {(2543.6,-39.6)(2555,-39.6)(2549.4,-52.2)} -- cycle;
\addplot[fill=boxg,draw=none,forget plot] coordinates {(2543.6,-62.4)(2555,-62.4)(2549.4,-52.2)} -- cycle;
\addplot[draw=none,forget plot] coordinates {(2549.4,-25)} node[font=\fontsize{12}{14}\selectfont,color=white] {Short Term};
\addplot[draw=none,forget plot] coordinates {(2549,-73)} node[font=\fontsize{12}{14}\selectfont,color=white] {Long Term};
\end{axis}

% frame extensions and price tag
\draw[framec,line width=1pt] (6pt,1247pt) -- (3342pt,1247pt) -- (3342pt,37pt) -- (6pt,37pt) -- (6pt,64pt);
\draw[framec,line width=1pt] (3250pt,335pt) -- (3342pt,335pt);
\draw[framec,line width=1pt] (3250pt,200pt) -- (3342pt,200pt);
\draw[framec,line width=1pt] (3250pt,64pt) -- (3342pt,64pt);
\draw[framec,line width=1pt] (3250pt,64pt) -- (3250pt,37pt);
\fill[fill=lastred!85!white] (3250pt,721pt) rectangle (3323pt,738pt);
\txt{3259}{729.5}{\fontsize{11.5}{13}\selectfont\color{white}0.00004401};

% header and legends
\txt{6}{1277.3}{\fontsize{13.2}{15}\selectfont{\color{tvblue}FlaviusTodorius67} \color[HTML]{333333}published on TradingView.com, May 12, 2019 18:50:43 UTC};
\txt{6}{1260.3}{\fontsize{13.5}{15}\selectfont\textbf{POLONIEX:XRPBTC, 1W}\ \ 0.00004401 {\symfont\color{hred}▼} −0.00000066 (−1.48\%) O:{\color{hred}0.00005199} H:{\color{hred}0.00005341} L:{\color{hred}0.00004239} C:{\color{hred}0.00004401}};
\txt{15}{1229}{\fontsize{13.5}{15}\selectfont\color{labc}\textbf{XRP / Bitcoin, 1W, POLONIEX}};
\txt{15}{1212}{\fontsize{13.5}{15}\selectfont\color{labc}BB (20, close, 2)};
\txt{15}{1195}{\fontsize{13.5}{15}\selectfont\color{labc}MA (200, close)};
\txt{15}{318.3}{\fontsize{13}{15}\selectfont\color{labc}Stoch RSI (3, 3, 14, 14, close)};
\txt{15}{183}{\fontsize{12.8}{15}\selectfont\color{labc}9 Seasons Rainbow Multi Time Frames Pattern PRO [9SRPEN] (0, 100, -30, 7, 0.35)};
\txt{6}{18}{\fontsize{13.5}{15}\selectfont\color[HTML]{222222}Created with};
\txt{107}{18}{\fontsize{13.5}{15}\selectfont\color{tvblue}TradingView};
\fill[tvblue] (84pt,11pt) -- (90pt,24pt) -- (94pt,16pt) -- (98pt,24pt) -- (105pt,11pt) -- cycle;
\end{tikzpicture}
\end{document}
